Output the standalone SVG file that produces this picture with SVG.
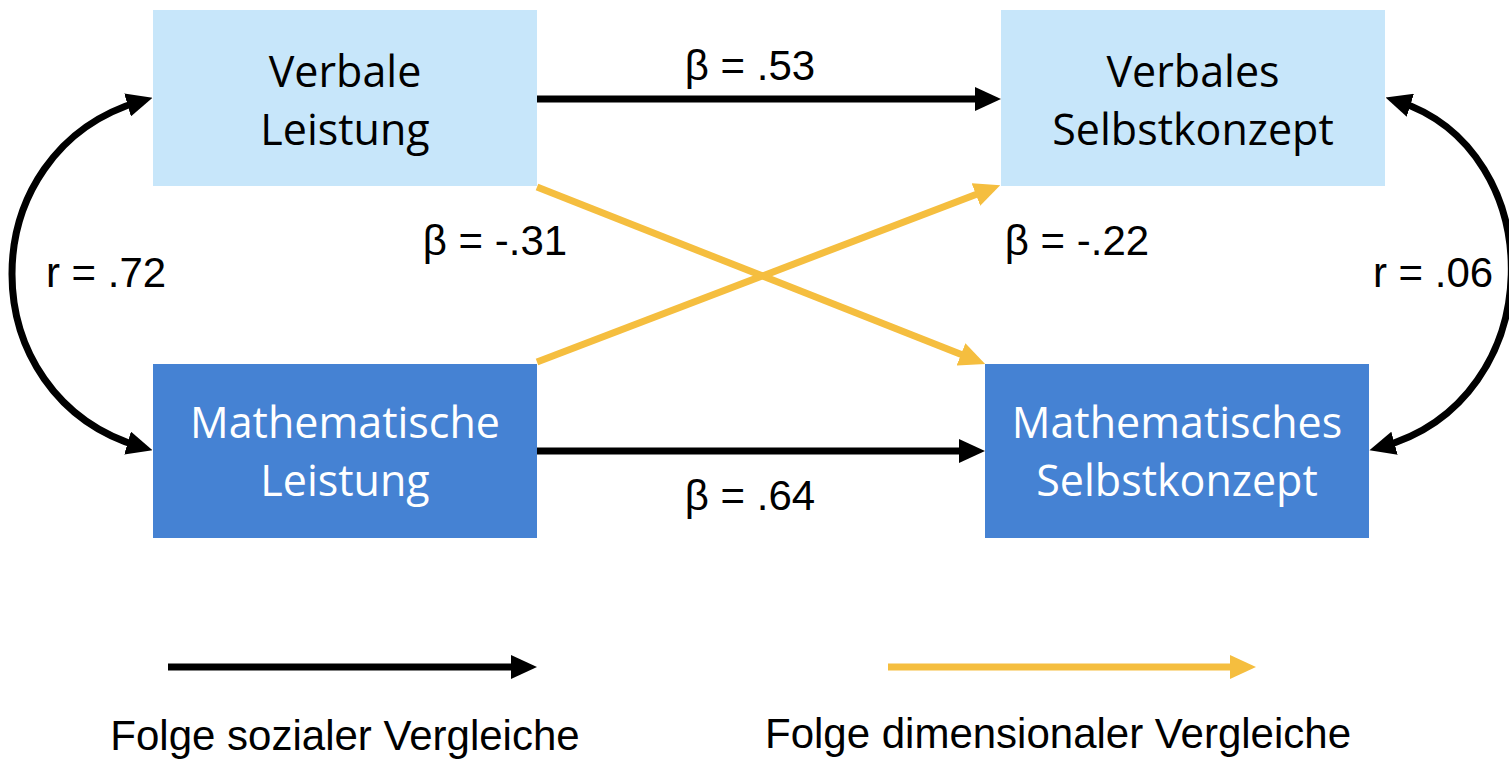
<svg xmlns="http://www.w3.org/2000/svg" width="1509" height="759" viewBox="0 0 1509 759">
<style>
.lt{fill:#C7E6FA}
.dk{fill:#4582D3}
.bt{font-family:"Open Sans",Lato,sans-serif;font-size:43px;text-anchor:middle}
.btd{fill:#000}
.btw{fill:#fff}
.lbl{font-family:"Liberation Sans",Arial,sans-serif;font-size:42px;fill:#000}
.blk{fill:none;stroke:#000;stroke-width:7}
.yel{fill:none;stroke:#F5BE3F;stroke-width:7}
</style>
<defs>
<marker id="ab" markerUnits="userSpaceOnUse" viewBox="0 0 26 24" refX="14" refY="12" markerWidth="26" markerHeight="24" orient="auto-start-reverse"><path d="M0,0 L26,12 L0,24 z" fill="#000"/></marker>
<marker id="ay" markerUnits="userSpaceOnUse" viewBox="0 0 26 24" refX="14" refY="12" markerWidth="26" markerHeight="24" orient="auto-start-reverse"><path d="M0,0 L26,12 L0,24 z" fill="#F5BE3F"/></marker>
</defs>
<rect width="1509" height="759" fill="#fff"/>
<g id="n-verbale-leistung">
<rect class="lt" x="153" y="10" width="384" height="176"/>
<text class="bt btd" x="345" y="87">Verbale</text>
<text class="bt btd" x="345" y="145">Leistung</text>
</g>
<g id="n-verbales-selbstkonzept">
<rect class="lt" x="1001" y="10" width="384" height="176"/>
<text class="bt btd" x="1193" y="87">Verbales</text>
<text class="bt btd" x="1193" y="145">Selbstkonzept</text>
</g>
<g id="n-math-leistung">
<rect class="dk" x="153" y="364" width="384" height="174"/>
<text class="bt btw" x="345" y="438">Mathematische</text>
<text class="bt btw" x="345" y="496">Leistung</text>
</g>
<g id="n-math-selbstkonzept">
<rect class="dk" x="985" y="364" width="384" height="174"/>
<text class="bt btw" x="1177" y="438">Mathematisches</text>
<text class="bt btw" x="1177" y="496">Selbstkonzept</text>
</g>
<g id="connectors">
<line class="blk" x1="537" y1="99" x2="989" y2="99" marker-end="url(#ab)"/>
<line class="blk" x1="537" y1="451" x2="973" y2="451" marker-end="url(#ab)"/>
<line class="yel" x1="537" y1="187" x2="974" y2="359.5" marker-end="url(#ay)"/>
<line class="yel" x1="537" y1="362" x2="989" y2="189.5" marker-end="url(#ay)"/>
<path class="blk" d="M141,101 C-31,151 -31,397 141,447" marker-start="url(#ab)" marker-end="url(#ab)"/>
<path class="blk" d="M1397,101 C1552,150 1552,400 1381,447" marker-start="url(#ab)" marker-end="url(#ab)"/>
</g>
<g id="labels">
<text class="lbl" x="750" y="80" text-anchor="middle">β = .53</text>
<text class="lbl" x="495" y="255" text-anchor="middle">β = -.31</text>
<text class="lbl" x="1077" y="255" text-anchor="middle">β = -.22</text>
<text class="lbl" x="106" y="287" text-anchor="middle">r = .72</text>
<text class="lbl" x="1433" y="287" text-anchor="middle">r = .06</text>
<text class="lbl" x="750" y="510" text-anchor="middle">β = .64</text>
</g>
<g id="legend">
<line class="blk" x1="168" y1="667" x2="525" y2="667" marker-end="url(#ab)"/>
<line class="yel" x1="888" y1="667" x2="1244" y2="667" marker-end="url(#ay)"/>
<text class="lbl" x="345" y="750" text-anchor="middle">Folge sozialer Vergleiche</text>
<text class="lbl" x="1058" y="748" text-anchor="middle">Folge dimensionaler Vergleiche</text>
</g>
</svg>
